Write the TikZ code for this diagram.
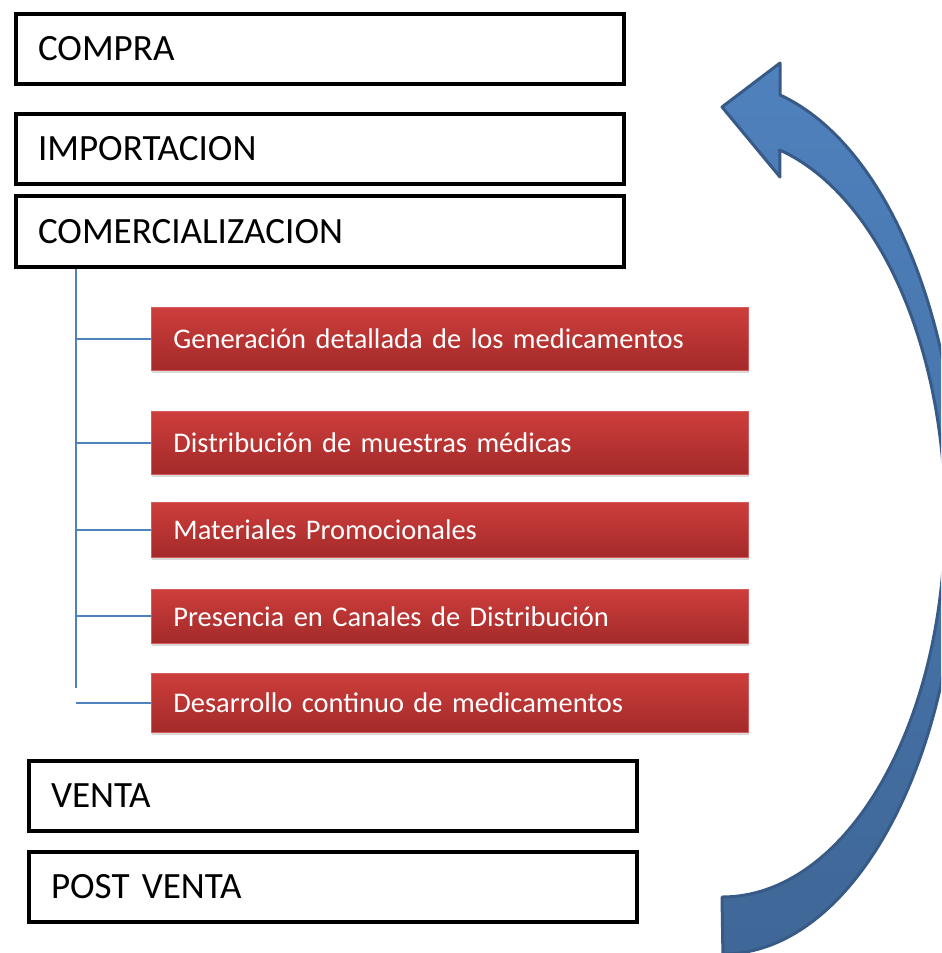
\documentclass[tikz,border=0pt]{standalone}
\usepackage{fontspec}
\setmainfont{Carlito}
\definecolor{stagered}{RGB}{205,62,60}
\definecolor{stagereddark}{RGB}{163,42,41}
\definecolor{redrim}{RGB}{212,92,90}
\definecolor{cycleblue}{RGB}{79,129,189}
\definecolor{cyclebluedark}{RGB}{63,103,151}
\definecolor{cycleline}{RGB}{56,90,135}
\usetikzlibrary{positioning,shadows}

\begin{document}
\begin{tikzpicture}[x=0.02cm,y=-0.02cm,
    stagebox/.style={draw=black,line width=2.3pt,rectangle,anchor=north west,
      text width=11.28cm,inner xsep=0.44cm,minimum height=1.4cm,align=left,
      font=\fontsize{21.1}{24}\selectfont},
    taskbox/.style={draw=redrim,line width=0.5pt,rectangle,anchor=north west,
      top color=stagered,bottom color=stagereddark,text=white,
      text width=11.06cm,inner xsep=0.44cm,align=left,
      font=\fontsize{16.2}{19}\selectfont,
      drop shadow={opacity=0.3,shadow xshift=0.6pt,shadow yshift=-1.6pt}},
    spine/.style={cycleblue,line width=1.1pt}]
  \path[use as bounding box,clip] (0,0) rectangle (941,953);
  % main stages
  \node[stagebox] (compra) at (14,12) {COMPRA};
  \node[stagebox] (importacion) at (14,112) {IMPORTACION};
  \node[stagebox,minimum height=1.42cm] (comerc) at (14,194) {COMERCIALIZACION};
  \node[stagebox] (venta) at (27,759) {VENTA};
  \node[stagebox] (postventa) at (27,850) {POST VENTA};
  % sub tasks
  \node[taskbox,minimum height=1.26cm] (gen) at (151,307) {Generación detallada de los medicamentos};
  \node[taskbox,minimum height=1.26cm] (dist) at (151,411) {Distribución de muestras médicas};
  \node[taskbox,minimum height=1.1cm] (mat) at (151,502) {Materiales Promocionales};
  \node[taskbox,minimum height=1.08cm] (pres) at (151,589) {Presencia en Canales de Distribución};
  \node[taskbox,minimum height=1.18cm] (des) at (151,673) {Desarrollo continuo de medicamentos};
  \coordinate (spinebot) at (76,688);
  \draw[spine] (comerc.south -| spinebot) -- (spinebot);
  \foreach \t in {gen,dist,mat,pres,des}
    \draw[spine] (spinebot |- \t.west) -- (\t.west);
  % cycle arrow
  \draw[cycleline,line width=1.7pt,line join=round,top color=cycleblue,bottom color=cyclebluedark]
    (722,897) arc[start angle=90,end angle=-75,x radius=223,y radius=380]
    -- (780,177) -- (722,107) -- (780,63) -- (780,95)
    arc[start angle=-76,end angle=90,x radius=236,y radius=436] -- cycle;
\end{tikzpicture}
\end{document}
